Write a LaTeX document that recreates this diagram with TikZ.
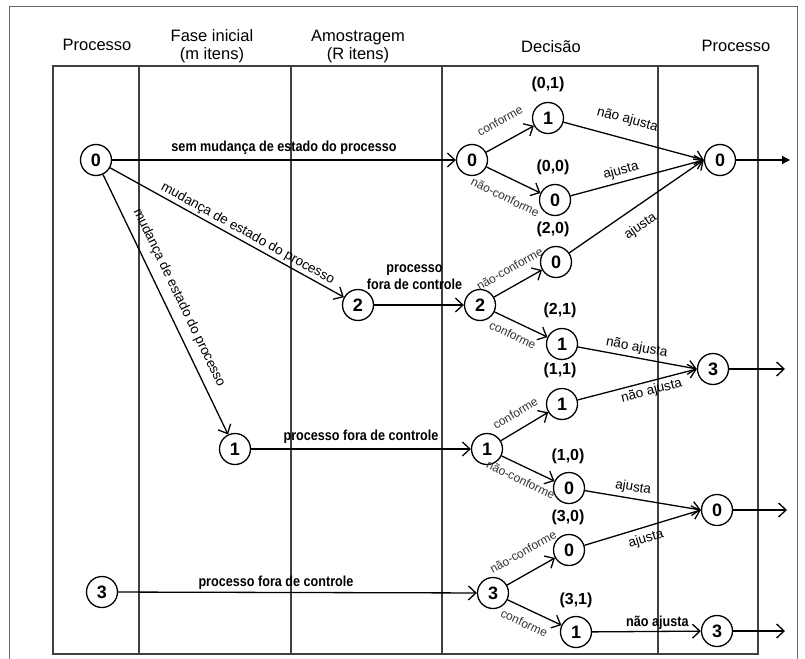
\documentclass[tikz,border=0pt]{standalone}
\usepackage{fontspec}
\setmainfont{Liberation Sans}
\newfontfamily\condsans[FakeStretch=0.87]{Liberation Sans}
\usetikzlibrary{arrows.meta}

\begin{document}
\begin{tikzpicture}[x=1pt,y=-1pt,
  state/.style={circle,draw,line width=1.3pt,minimum size=31pt,inner sep=0pt,
    font=\fontsize{18}{18}\selectfont\bfseries},
  flow/.style={line width=1.3pt,-{Straight Barb[length=7.5pt,width=14pt,line width=1.3pt]}},
  flowfill/.style={line width=1.2pt,-{Triangle[length=8pt,width=8pt]}},
  pair/.style={font=\fontsize{16}{16}\selectfont\bfseries},
  head/.style={font=\fontsize{16.5}{18}\selectfont,align=center},
  boldlbl/.style={font=\condsans\fontsize{14.5}{16.5}\selectfont\bfseries,inner sep=2pt},
  midlbl/.style={font=\fontsize{13.5}{14}\selectfont,inner sep=2pt},
  smalllbl/.style={font=\fontsize{12}{12}\selectfont,text=black!80,inner sep=1pt},
  grid/.style={draw=black!75,line width=1.3pt},
]
\useasboundingbox (0,0) rectangle (805,658);

% outer frame
\draw[black!60,line width=1pt] (9,7) rectangle (797,670);

% table with its columns
\draw[grid] (53,66) rectangle (758,654);
\foreach \cx in {139,291,442,658} \draw[grid] (\cx,66) -- (\cx,654);

% column headings
\node[head] (h1) at (97,45) {Processo};
\node[head] (h2) at (212,46.5) {Fase inicial\\(m itens)};
\node[head] (h3) at (358,46.5) {Amostragem\\(R itens)};
\node[head] (h4) at (551,47) {Decisão};
\node[head] (h5) at (736,46) {Processo};

% states
\node[state] (A0) at (96,160) {0};
\node[state] (A3) at (102,592) {3};
\node[state] (F1) at (235,449) {1};
\node[state] (F2) at (358,305) {2};
\node[state] (D0) at (472,160) {0};
\node[state] (D2) at (480,305) {2};
\node[state] (D1) at (487,449) {1};
\node[state] (D3) at (493,593) {3};
\node[state] (n01) at (548,118) {1};
\node[state] (n00) at (555,200) {0};
\node[state] (n20) at (556,262) {0};
\node[state] (n21) at (562,344) {1};
\node[state] (n11) at (562,404) {1};
\node[state] (n10) at (569,488) {0};
\node[state] (n30) at (569,550) {0};
\node[state] (n31) at (576,632) {1};
\node[state] (R0a) at (720,160) {0};
\node[state] (R3a) at (713,369) {3};
\node[state] (R0b) at (717,510) {0};
\node[state] (R3b) at (717,631) {3};

% (state, item) pairs
\node[pair] (p01) at (548,84) {(0,1)};
\node[pair] (p00) at (553,167) {(0,0)};
\node[pair] (p20) at (553,229) {(2,0)};
\node[pair] (p21) at (560,310) {(2,1)};
\node[pair] (p11) at (560,370) {(1,1)};
\node[pair] (p10) at (568,456) {(1,0)};
\node[pair] (p30) at (568,517) {(3,0)};
\node[pair] (p31) at (576,600) {(3,1)};

% exit points
\coordinate (e0a) at (790,160);
\coordinate (e3a) at (785,369);
\coordinate (e0b) at (787,510);
\coordinate (e3b) at (785,631);

% transitions from the process states
\draw[flow] (A0) -- node[boldlbl,above=3pt] (l1) {sem mudança de estado do processo} (D0);
\draw[flow] (A0) -- node[midlbl,sloped,above,pos=0.57] (l2) {mudança de estado do processo} (F2);
\draw[flow] (A0) -- node[midlbl,sloped,above=6pt,pos=0.5] (l3) {mudança de estado do processo} (F1);
\draw[flow] (F2) -- node[boldlbl,above=13pt,align=center,pos=0.45] (l4) {processo\\fora de controle} (D2);
\draw[flow] (F1) -- node[boldlbl,above=3pt] (l5) {processo fora de controle} (D1);
\draw[flow] (A3) -- node[boldlbl,above,pos=0.44] (l6) {processo fora de controle} (D3);

% sampling decisions
\draw[flow] (D0) -- node[smalllbl,sloped,above=15pt,pos=0.5] (c1) {conforme} (n01);
\draw[flow] (D0) -- node[smalllbl,sloped,below=13pt,pos=0.5] (c2) {não-conforme} (n00);
\draw[flow] (D2) -- node[smalllbl,sloped,above=11pt,pos=0.5] (c3) {não-conforme} (n20);
\draw[flow] (D2) -- node[smalllbl,sloped,below=7pt,pos=0.45] (c4) {conforme} (n21);
\draw[flow] (D1) -- node[smalllbl,sloped,above=10pt,pos=0.48] (c5) {conforme} (n11);
\draw[flow] (D1) -- node[smalllbl,sloped,below=7pt,pos=0.47] (c6) {não-conforme} (n10);
\draw[flow] (D3) -- node[smalllbl,sloped,above=15pt,pos=0.55] (c7) {não-conforme} (n30);
\draw[flow] (D3) -- node[smalllbl,sloped,below=8pt,pos=0.42] (c8) {conforme} (n31);

% adjustment decisions
\draw[flow] (n01) -- node[midlbl,sloped,above=10pt,pos=0.42] (a1) {não ajusta} (R0a.west);
\draw[flow] (n00) -- node[midlbl,sloped,above=2pt,pos=0.4] (a2) {ajusta} (R0a.west);
\draw[flow] (n20) -- node[midlbl,sloped,below=10pt,pos=0.45] (a3) {ajusta} (R0a.west);
\draw[flow] (n21) -- node[midlbl,sloped,above=1pt,pos=0.48] (a4) {não ajusta} (R3a.west);
\draw[flow] (n11) -- node[midlbl,sloped,below=1pt,pos=0.6] (a5) {não ajusta} (R3a.west);
\draw[flow] (n10) -- node[midlbl,sloped,above=2pt,pos=0.4] (a6) {ajusta} (R0b.west);
\draw[flow] (n30) -- node[midlbl,sloped,below=3pt,pos=0.5] (a7) {ajusta} (R0b.west);
\draw[flow] (n31) -- node[boldlbl,above=-1pt,pos=0.6] (a8) {não ajusta} (R3b);

% next period
\draw[flowfill] (R0a) -- (e0a);
\draw[flow] (R3a) -- (e3a);
\draw[flow] (R0b) -- (e0b);
\draw[flow] (R3b) -- (e3b);
\end{tikzpicture}
\end{document}
